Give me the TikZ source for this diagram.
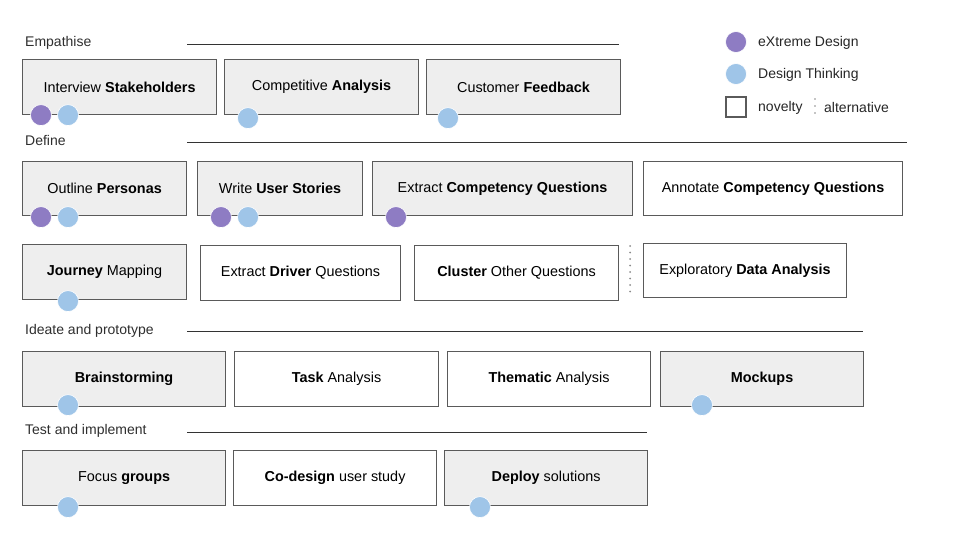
\documentclass[tikz,border=0pt]{standalone}
\usepackage{fontspec}
\setmainfont{Liberation Sans}
\definecolor{xdpurple}{HTML}{8E7CC3}
\definecolor{dtblue}{HTML}{9FC5E8}
\definecolor{boxfill}{HTML}{EEEEEE}
\definecolor{boxline}{HTML}{5A5A5A}
\definecolor{rule}{HTML}{333333}
\definecolor{dotgray}{HTML}{8A8A8A}
\tikzset{
  txt/.style={font=\fontsize{14}{16}\selectfont, text=black},
  box/.style={font=\fontsize{14.4}{16}\selectfont, text=black, draw=boxline, line width=1.1pt, minimum height=55pt, inner sep=0pt, anchor=north west},
  greybox/.style={box, fill=boxfill},
  whitebox/.style={box, fill=white},
  section/.style={txt, anchor=west, inner sep=0pt, text=rule!90!black},
  rulebar/.style={draw=rule, line width=0.8pt},
  dotbase/.style={circle, minimum size=21pt, inner sep=0pt, draw=white, line width=0.6pt},
  xd/.style={dotbase, fill=xdpurple},
  dt/.style={dotbase, fill=dtblue},
  altsep/.style={draw=dotgray, line width=2pt, line cap=round, dash pattern=on 0pt off 6.5pt},
  legtext/.style={txt, anchor=west, inner sep=0pt, text=black!85}
}
\begin{document}
\begin{tikzpicture}[x=1pt,y=-1pt]
\useasboundingbox (0,0) rectangle (960,540);

% section headings and rules
\node[section] (sEmp) at (25,42.5) {Empathise};
\coordinate (eA) at (187,44); \coordinate (eB) at (619,44);
\draw[rulebar] (eA) -- (eB);
\node[section] (sDef) at (25,140.5) {Define};
\coordinate (dA) at (187,142); \coordinate (dB) at (907,142);
\draw[rulebar] (dA) -- (dB);
\node[section] (sIde) at (25,330.5) {Ideate and prototype};
\coordinate (iA) at (187,331); \coordinate (iB) at (863,331);
\draw[rulebar] (iA) -- (iB);
\node[section] (sTst) at (25,430.5) {Test and implement};
\coordinate (tA) at (187,432); \coordinate (tB) at (647,432);
\draw[rulebar] (tA) -- (tB);

% Row 1
\node[greybox, minimum width=194pt] (r1a) at (22,59) {Interview \textbf{Stakeholders}};
\node[greybox, minimum width=194pt] (r1b) at (224,59) {Competitive \textbf{Analysis}};
\node[greybox, minimum width=194pt] (r1c) at (426,59) {Customer \textbf{Feedback}};
\node[xd] (c1a1) at ([xshift=19pt]r1a.south west) {};
\node[dt] (c1a2) at ([xshift=46pt]r1a.south west) {};
\node[dt] (c1b) at ([xshift=24pt,yshift=-3pt]r1b.south west) {};
\node[dt] (c1c) at ([xshift=22pt,yshift=-3pt]r1c.south west) {};

% Row 2
\node[greybox, minimum width=164pt, minimum height=54pt] (r2a) at (22,161) {Outline \textbf{Personas}};
\node[greybox, minimum width=165pt, minimum height=54pt] (r2b) at (197,161) {Write \textbf{User Stories}};
\node[greybox, minimum width=260pt, minimum height=54pt] (r2c) at (372,161) {Extract \textbf{Competency Questions}};
\node[whitebox, minimum width=259pt, minimum height=54pt] (r2d) at (643,161) {Annotate \textbf{Competency Questions}};
\node[xd] (c2a1) at ([xshift=19pt,yshift=-1pt]r2a.south west) {};
\node[dt] (c2a2) at ([xshift=46pt,yshift=-1pt]r2a.south west) {};
\node[xd] (c2b1) at ([xshift=24pt,yshift=-1pt]r2b.south west) {};
\node[dt] (c2b2) at ([xshift=51pt,yshift=-1pt]r2b.south west) {};
\node[xd] (c2c) at ([xshift=24pt,yshift=-1pt]r2c.south west) {};

% Row 3
\node[greybox, minimum width=164pt] (r3a) at (22,244) {\textbf{Journey} Mapping};
\node[whitebox, minimum width=200pt] (r3b) at (200,245) {Extract \textbf{Driver} Questions};
\node[whitebox, minimum width=204pt] (r3c) at (414,245) {\textbf{Cluster} Other Questions};
\node[whitebox, minimum width=203pt, minimum height=54pt] (r3d) at (643,243) {Exploratory \textbf{Data Analysis}};
\node[dt] (c3a) at ([xshift=46pt,yshift=-1pt]r3a.south west) {};
\coordinate (altA) at (630,246); \coordinate (altB) at (630,298);
\draw[altsep] (altA) -- (altB);

% Row 4
\node[greybox, minimum width=203pt] (r4a) at (22,351) {\textbf{Brainstorming}};
\node[whitebox, minimum width=204pt] (r4b) at (234,351) {\textbf{Task} Analysis};
\node[whitebox, minimum width=203pt] (r4c) at (447,351) {\textbf{Thematic} Analysis};
\node[greybox, minimum width=203pt] (r4d) at (660,351) {\textbf{Mockups}};
\node[dt] (c4a) at ([xshift=46pt,yshift=2pt]r4a.south west) {};
\node[dt] (c4d) at ([xshift=42pt,yshift=2pt]r4d.south west) {};

% Row 5
\node[greybox, minimum width=203pt] (r5a) at (22,450) {Focus \textbf{groups}};
\node[whitebox, minimum width=203pt] (r5b) at (233,450) {\textbf{Co-design} user study};
\node[greybox, minimum width=203pt] (r5c) at (444,450) {\textbf{Deploy} solutions};
\node[dt] (c5a) at ([xshift=46pt,yshift=-1pt]r5a.south west) {};
\node[dt] (c5c) at ([xshift=36pt,yshift=-1pt]r5c.south west) {};

% Legend
\node[xd] (lgxd) at (736,42) {};
\node[legtext] (lgxdt) at (758,42.5) {eXtreme Design};
\node[dt] (lgdt) at (736,74) {};
\node[legtext] (lgdtt) at (758,74.5) {Design Thinking};
\node[draw=boxline, line width=2pt, minimum size=20pt, inner sep=0pt] (lgnov) at (736,107) {};
\node[legtext] (lgnovt) at (758,107.5) {novelty};
\coordinate (lgaA) at (815,99); \coordinate (lgaB) at (815,116);
\draw[altsep, line width=1.8pt, dash pattern=on 0pt off 7pt] (lgaA) -- (lgaB);
\node[legtext] (lgaltt) at (824,107.5) {alternative};
\end{tikzpicture}
\end{document}
